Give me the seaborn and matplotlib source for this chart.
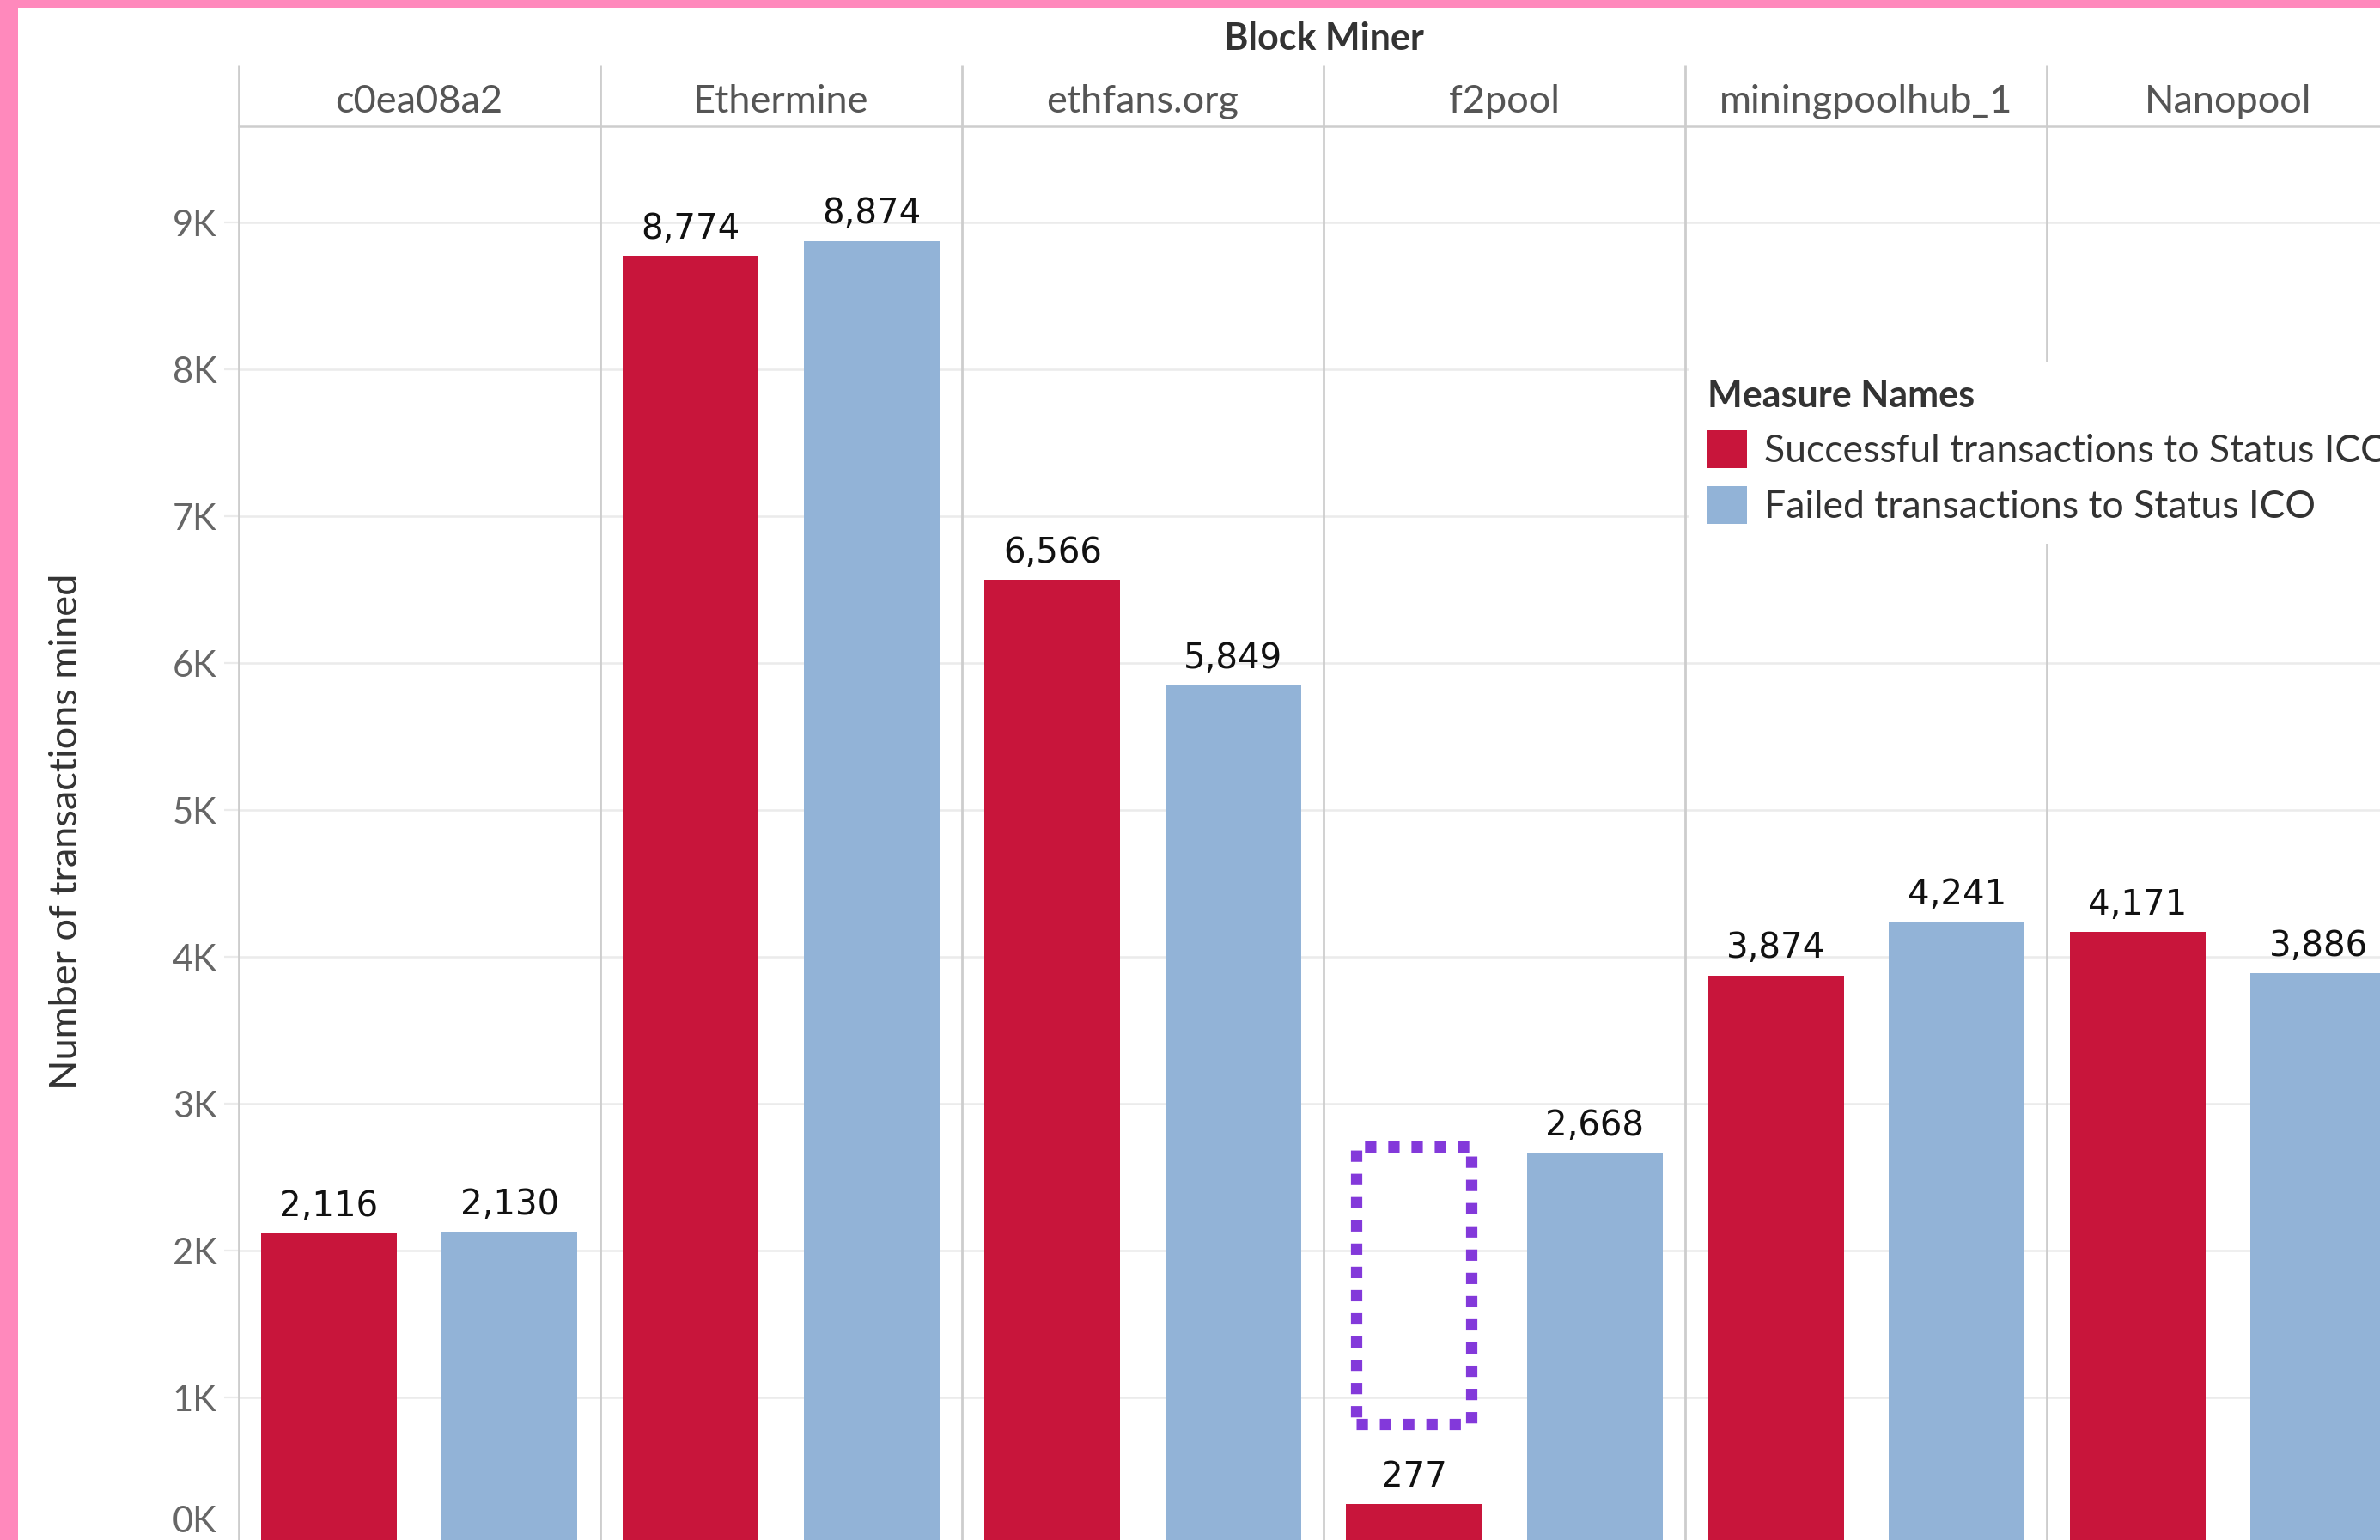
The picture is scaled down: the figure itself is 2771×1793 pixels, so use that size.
import numpy as np
import pandas as pd
import matplotlib
matplotlib.use("Agg")
import matplotlib.pyplot as plt
import matplotlib.patches as mpatches
from matplotlib.transforms import ScaledTranslation
import seaborn as sns

# ---------------- data ----------------
miners = ["c0ea08a2", "Ethermine", "ethfans.org", "f2pool", "miningpoolhub_1", "Nanopool"]
successful = [2116, 8774, 6566, 277, 3874, 4171]
failed = [2130, 8874, 5849, 2668, 4241, 3886]
measures = ["Successful transactions to Status ICO", "Failed transactions to Status ICO"]
y_ticks = [0, 1000, 2000, 3000, 4000, 5000, 6000, 7000, 8000, 9000]
y_tick_labels = ["0K", "1K", "2K", "3K", "4K", "5K", "6K", "7K", "8K", "9K"]
highlight_miner = "f2pool"
highlight_range = [816, 2710]

# ---------------- style ----------------
RED = "#C8153B"
BLUE = "#92B3D7"
PINK = "#FF89BC"
PURPLE = "#8339DA"
GRID = "#EBEBEB"
DIV = "#CDCDCD"

sns.set_theme(style="white")
plt.rcParams["font.family"] = ["Lato", "DejaVu Sans"]

df = pd.DataFrame({
    "miner": miners * 2,
    "measure": [measures[0]] * len(miners) + [measures[1]] * len(miners),
    "value": successful + failed,
})

W, H = 2771, 1793
fig = plt.figure(figsize=(W / 100, H / 100), dpi=100)
fig.patch.set_facecolor(PINK)
fig.add_artist(mpatches.Rectangle((21 / W, 0), 1, (H - 9) / H, transform=fig.transFigure,
                                  facecolor="white", edgecolor="none", zorder=-10))

col_w = 421.2
ax_left, ax_top, ax_zero = 277.5, 147, 1798
ax = fig.add_axes([ax_left / W, (H - ax_zero) / H, 6 * col_w / W, (ax_zero - ax_top) / H])
ax.set_facecolor("none")

sns.barplot(data=df, x="miner", y="value", hue="measure", order=miners, hue_order=measures,
            palette=[RED, BLUE], saturation=1, width=1.0, gap=0.25, errorbar=None,
            linewidth=0, ax=ax, zorder=2)

handles, labels = ax.get_legend_handles_labels()
if ax.get_legend() is not None:
    ax.get_legend().remove()

ax.set_xlim(-0.5, 5.5)
ax.set_ylim(0, 9655)
ax.set_xlabel("")
ax.tick_params(axis="x", bottom=False, labelbottom=False)

ax.set_yticks(y_ticks)
ax.set_yticklabels(y_tick_labels)
ax.tick_params(axis="y", left=True, length=12, width=1.6, color=GRID, pad=6,
               labelsize=30, labelcolor="#666666")
ax.yaxis.grid(True, color=GRID, linewidth=1.8)
ax.set_axisbelow(True)

# move the 0K label up, as the baseline sits at the bottom edge
lab0 = ax.yaxis.get_major_ticks()[0].label1
lab0.set_transform(lab0.get_transform() + ScaledTranslation(0, 29 / 100, fig.dpi_scale_trans))

for s in ["left", "right", "bottom"]:
    ax.spines[s].set_visible(False)
ax.spines["top"].set_color(DIV)
ax.spines["top"].set_linewidth(1.8)

header_top = (ax_zero - 76) / (ax_zero - ax_top)
ax.vlines(np.arange(-0.5, 5.0, 1.0), 0, header_top, transform=ax.get_xaxis_transform(),
          colors=DIV, linewidth=2.0, clip_on=False, zorder=1)

# pane headers
for i, m in enumerate(miners):
    ax.text(i, (ax_zero - 131) / (ax_zero - ax_top), m, transform=ax.get_xaxis_transform(),
            ha="center", va="baseline", fontsize=32.5, color="#555555")

fig.text(1541 / W, (H - 58) / H, "Block Miner", ha="center", va="baseline",
         fontsize=31, fontweight="bold", color="#333333")

ax.set_ylabel("Number of transactions mined", fontsize=32.5, color="#333333")
ax.yaxis.set_label_coords((78 - ax_left) / (6 * col_w), (ax_zero - 968) / (ax_zero - ax_top))
ax.yaxis.label.set_va("center")

# value labels
for cont in ax.containers:
    ax.bar_label(cont, fmt="{:,.0f}", padding=8, fontsize=29, color="#111111",
                 family="DejaVu Sans")

# highlight box around the missing f2pool successful transactions
idx = miners.index(highlight_miner)
bar = ax.containers[0][idx]
inset = 0.0285
ax.add_patch(mpatches.Rectangle((bar.get_x() + inset, highlight_range[0]),
                                bar.get_width() - 2 * inset,
                                highlight_range[1] - highlight_range[0],
                                fill=False, edgecolor=PURPLE, linewidth=9.5,
                                linestyle=(0, (1, 1.05)), zorder=5))

# legend (white block interrupting grid)
fig.add_artist(mpatches.Rectangle((1967 / W, (H - 633) / H), 1, (633 - 421) / H,
                                  transform=fig.transFigure, facecolor="white",
                                  edgecolor="none", zorder=5))
leg = fig.legend(handles, measures, title="Measure Names", loc="upper left",
                 bbox_to_anchor=(1988 / W, (H - 441) / H), frameon=False,
                 fontsize=32, title_fontproperties={"size": 31, "weight": "bold"},
                 alignment="left", borderpad=0, borderaxespad=0,
                 handlelength=1.04, handleheight=1.15,
                 handletextpad=0.45, labelspacing=0.45)
leg.set_zorder(10)
for t in leg.get_texts():
    t.set_color("#333333")
leg.get_title().set_color("#333333")

fig.savefig("out.png", dpi=100, facecolor=fig.get_facecolor())
